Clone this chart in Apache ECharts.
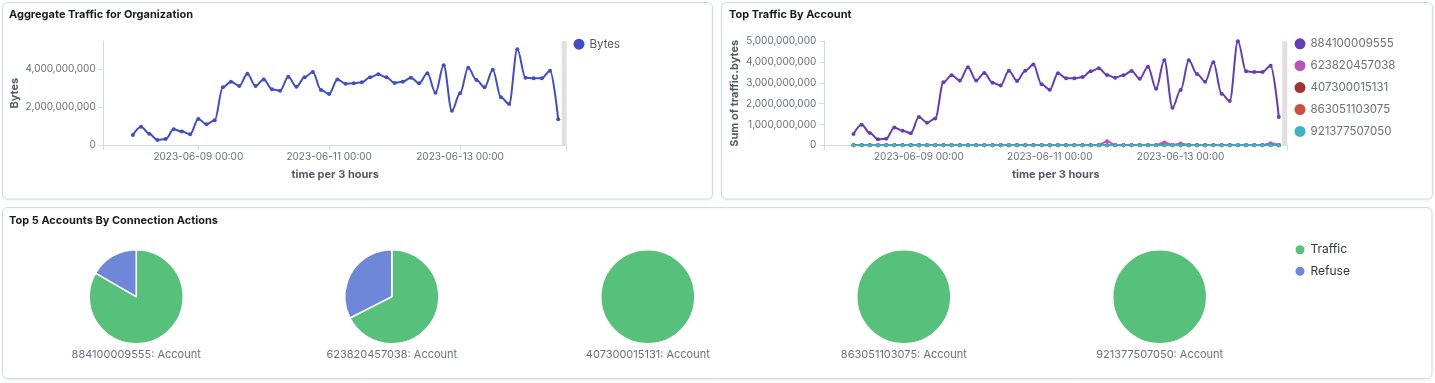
<!DOCTYPE html>
<html><head><meta charset="utf-8">
<script src="https://cdn.jsdelivr.net/npm/echarts@6/dist/echarts.min.js"></script>
<style>html,body{margin:0;padding:0;background:#ffffff;}#c{width:1435px;height:383px;}</style>
</head><body><div id="c"></div>
<script>
const timeBuckets = [
 '2023-06-08 00:00','2023-06-08 03:00','2023-06-08 06:00','2023-06-08 09:00','2023-06-08 12:00','2023-06-08 15:00','2023-06-08 18:00','2023-06-08 21:00',
 '2023-06-09 00:00','2023-06-09 03:00','2023-06-09 06:00','2023-06-09 09:00','2023-06-09 12:00','2023-06-09 15:00','2023-06-09 18:00','2023-06-09 21:00',
 '2023-06-10 00:00','2023-06-10 03:00','2023-06-10 06:00','2023-06-10 09:00','2023-06-10 12:00','2023-06-10 15:00','2023-06-10 18:00','2023-06-10 21:00',
 '2023-06-11 00:00','2023-06-11 03:00','2023-06-11 06:00','2023-06-11 09:00','2023-06-11 12:00','2023-06-11 15:00','2023-06-11 18:00','2023-06-11 21:00',
 '2023-06-12 00:00','2023-06-12 03:00','2023-06-12 06:00','2023-06-12 09:00','2023-06-12 12:00','2023-06-12 15:00','2023-06-12 18:00','2023-06-12 21:00',
 '2023-06-13 00:00','2023-06-13 03:00','2023-06-13 06:00','2023-06-13 09:00','2023-06-13 12:00','2023-06-13 15:00','2023-06-13 18:00','2023-06-13 21:00',
 '2023-06-14 00:00','2023-06-14 03:00','2023-06-14 06:00','2023-06-14 09:00','2023-06-14 12:00'
];
const bytesTotal = [
 0.54e9,0.98e9,0.61e9,0.28e9,0.33e9,0.84e9,0.72e9,0.58e9,
 1.38e9,1.11e9,1.32e9,3.05e9,3.35e9,3.12e9,3.77e9,3.12e9,
 3.47e9,2.95e9,2.87e9,3.61e9,3.08e9,3.58e9,3.86e9,2.91e9,
 2.70e9,3.47e9,3.24e9,3.26e9,3.32e9,3.58e9,3.74e9,3.58e9,
 3.28e9,3.35e9,3.56e9,3.26e9,3.79e9,2.77e9,4.21e9,1.82e9,
 2.74e9,4.08e9,3.44e9,3.05e9,3.98e9,2.53e9,2.17e9,5.05e9,
 3.56e9,3.53e9,3.53e9,3.93e9,1.37e9
];
const acct88 = [
 0.54e9,0.99e9,0.59e9,0.29e9,0.32e9,0.86e9,0.70e9,0.58e9,
 1.36e9,1.09e9,1.29e9,3.03e9,3.37e9,3.11e9,3.75e9,3.11e9,
 3.48e9,3.01e9,2.88e9,3.59e9,3.09e9,3.59e9,3.88e9,2.93e9,
 2.67e9,3.46e9,3.22e9,3.22e9,3.28e9,3.56e9,3.70e9,3.38e9,
 3.25e9,3.37e9,3.57e9,3.20e9,3.78e9,2.72e9,4.09e9,1.81e9,
 2.66e9,4.09e9,3.43e9,3.06e9,3.99e9,2.48e9,2.13e9,5.00e9,
 3.56e9,3.52e9,3.52e9,3.83e9,1.36e9
];
const acct62 = [
 0.010e9,0.012e9,0.010e9,0.008e9,0.009e9,0.011e9,0.010e9,0.012e9,
 0.014e9,0.012e9,0.015e9,0.018e9,0.016e9,0.014e9,0.017e9,0.015e9,
 0.016e9,0.014e9,0.013e9,0.017e9,0.015e9,0.016e9,0.018e9,0.014e9,
 0.013e9,0.016e9,0.015e9,0.016e9,0.015e9,0.017e9,0.020e9,0.200e9,
 0.016e9,0.015e9,0.017e9,0.014e9,0.018e9,0.015e9,0.140e9,0.012e9,
 0.090e9,0.016e9,0.015e9,0.014e9,0.017e9,0.013e9,0.012e9,0.020e9,
 0.016e9,0.015e9,0.016e9,0.100e9,0.010e9
];
const acct40 = [
 0.004e9,0.005e9,0.004e9,0.003e9,0.003e9,0.004e9,0.004e9,0.004e9,
 0.005e9,0.004e9,0.005e9,0.006e9,0.006e9,0.005e9,0.006e9,0.005e9,
 0.006e9,0.005e9,0.005e9,0.006e9,0.005e9,0.006e9,0.006e9,0.005e9,
 0.005e9,0.006e9,0.005e9,0.005e9,0.006e9,0.006e9,0.006e9,0.006e9,
 0.005e9,0.006e9,0.006e9,0.005e9,0.006e9,0.005e9,0.007e9,0.004e9,
 0.005e9,0.007e9,0.006e9,0.005e9,0.006e9,0.005e9,0.004e9,0.008e9,
 0.006e9,0.006e9,0.006e9,0.006e9,0.004e9
];
const acct86 = [
 0.003e9,0.003e9,0.003e9,0.002e9,0.002e9,0.003e9,0.003e9,0.003e9,
 0.004e9,0.003e9,0.004e9,0.005e9,0.005e9,0.004e9,0.005e9,0.004e9,
 0.005e9,0.004e9,0.004e9,0.005e9,0.004e9,0.005e9,0.005e9,0.004e9,
 0.004e9,0.005e9,0.004e9,0.004e9,0.005e9,0.005e9,0.005e9,0.005e9,
 0.004e9,0.005e9,0.005e9,0.004e9,0.005e9,0.004e9,0.006e9,0.003e9,
 0.004e9,0.006e9,0.005e9,0.004e9,0.005e9,0.004e9,0.003e9,0.006e9,
 0.005e9,0.005e9,0.005e9,0.005e9,0.003e9
];
const acct92 = [
 0.005e9,0.006e9,0.005e9,0.004e9,0.004e9,0.005e9,0.005e9,0.005e9,
 0.006e9,0.005e9,0.006e9,0.007e9,0.007e9,0.006e9,0.007e9,0.006e9,
 0.007e9,0.006e9,0.006e9,0.007e9,0.006e9,0.007e9,0.007e9,0.006e9,
 0.006e9,0.007e9,0.006e9,0.006e9,0.007e9,0.007e9,0.007e9,0.007e9,
 0.006e9,0.007e9,0.007e9,0.006e9,0.007e9,0.006e9,0.008e9,0.005e9,
 0.006e9,0.008e9,0.007e9,0.006e9,0.007e9,0.006e9,0.005e9,0.009e9,
 0.007e9,0.007e9,0.007e9,0.007e9,0.005e9
];
const accountNames = ['884100009555','623820457038','407300015131','863051103075','921377507050'];
const accountColors = ['#663db8','#bc52bc','#9e3533','#c9503c','#3db3c3'];
const accountSeries = [acct88, acct62, acct40, acct86, acct92];
const trafficShare = [83.4, 67.5, 100, 100, 100];
const refuseShare = [16.6, 32.5, 0, 0, 0];
const dateTicks = ['2023-06-09 00:00','2023-06-11 00:00','2023-06-13 00:00'];
const axisRange = ['2023-06-07 13:18','2023-06-14 15:07'];
const partialBucketFrom = '2023-06-14 13:15';
const yTicksLeft = [0, 2e9, 4e9];
const yMaxLeft = 5.49e9;
const yTicksRight = [0, 1e9, 2e9, 3e9, 4e9, 5e9];
const yMaxRight = 5e9;

function t(s){const [d,h]=s.split(' ');const [Y,M,D]=d.split('-').map(Number);const [hh,mm]=h.split(':').map(Number);return Date.UTC(Y,M-1,D,hh,mm);}
function pad(n){return (n<10?'0':'')+n;}
function fmtTime(v){const d=new Date(v);return d.getUTCFullYear()+'-'+pad(d.getUTCMonth()+1)+'-'+pad(d.getUTCDate())+' '+pad(d.getUTCHours())+':'+pad(d.getUTCMinutes());}
function fmtNum(v){return String(Math.round(v)).replace(/\B(?=(\d{3})+(?!\d))/g, ',');}

const FONT = 'Inter';
const axisColor = '#d3dae6';
const labelColor = '#69707d';
const nameColor = '#535966';
const xMin = t(axisRange[0]), xMax = t(axisRange[1]);

function xAxisCfg(gi){
  return {type:'value', gridIndex:gi, min:xMin, max:xMax, scale:true,
    axisLine:{show:true, onZero:false, lineStyle:{color:axisColor}},
    axisTick:{show:true, length:5, lineStyle:{color:axisColor}, customValues:[xMin].concat(dateTicks.map(t)).concat([xMax])},
    axisLabel:{customValues:dateTicks.map(t), formatter:fmtTime, color:labelColor, fontSize:10, fontFamily:FONT, margin:7},
    splitLine:{show:false},
    name:'time per 3 hours', nameLocation:'middle', nameGap:23.5,
    nameTextStyle:{fontWeight:'bold', color:nameColor, fontSize:11, fontFamily:FONT}};
}
function yAxisCfg(gi, max, ticks, name, gap){
  return {type:'value', gridIndex:gi, min:0, max:max,
    axisLine:{show:true, lineStyle:{color:axisColor}},
    axisTick:{show:true, length:5, lineStyle:{color:axisColor}, customValues:ticks},
    axisLabel:{customValues:ticks, formatter:fmtNum, color:labelColor, fontSize:10, fontFamily:FONT, margin:8},
    splitLine:{show:false},
    name:name, nameLocation:'middle', nameGap:gap,
    nameTextStyle:{fontWeight:'bold', color:nameColor, fontSize:11, fontFamily:FONT}};
}
const partialArea = {silent:true, itemStyle:{color:'#e0e0e0'}, data:[[{xAxis:t(partialBucketFrom)},{xAxis:xMax}]]};

const series = [];
series.push({type:'line', name:'Bytes', xAxisIndex:0, yAxisIndex:0,
  data:timeBuckets.map((s,i)=>[t(s), bytesTotal[i]]),
  smooth:0.35, smoothMonotone:'x', symbol:'circle', symbolSize:4, showSymbol:true,
  lineStyle:{width:2, color:'#3f4fc3'}, itemStyle:{color:'#3f4fc3'},
  markArea:partialArea, emphasis:{disabled:true}});
accountNames.forEach((nm, k)=>{
  const s = {type:'line', name:nm, xAxisIndex:1, yAxisIndex:1,
    data:timeBuckets.map((ts,i)=>[t(ts), accountSeries[k][i]]),
    smooth:0.35, smoothMonotone:'x', symbol:'circle', symbolSize:4, showSymbol:true,
    lineStyle:{width:2, color:accountColors[k]}, itemStyle:{color:accountColors[k]},
    emphasis:{disabled:true}};
  if (k===0) s.markArea = partialArea;
  series.push(s);
});
const pieCenters = [136.2, 391.8, 647.8, 903.8, 1159.7];
const titles = [
  {text:'Aggregate Traffic for Organization', left:9, top:9.5},
  {text:'Top Traffic By Account', left:729, top:9.5},
  {text:'Top 5 Accounts By Connection Actions', left:9, top:215}
].map(o=>Object.assign(o,{padding:0, textStyle:{fontSize:11, fontWeight:'bold', color:'#1a1c21', fontFamily:FONT}}));
accountNames.forEach((nm, k)=>{
  const data = [];
  if (trafficShare[k] > 0) data.push({name:'Traffic', value:trafficShare[k], itemStyle:{color:'#57c17b'}});
  if (refuseShare[k] > 0) data.push({name:'Refuse', value:refuseShare[k], itemStyle:{color:'#6f87d8'}});
  series.push({type:'pie', center:[pieCenters[k], 296.7], radius:47, startAngle:90, clockwise:true,
    label:{show:false}, labelLine:{show:false}, itemStyle:{borderColor:'#ffffff', borderWidth:1.5},
    emphasis:{disabled:true}, data:data});
  titles.push({text:nm+': Account', left:pieCenters[k], top:349, textAlign:'center', padding:0,
    textStyle:{fontSize:11, fontWeight:'normal', color:labelColor, fontFamily:FONT}});
});

const panelStyle = {fill:'#ffffff', stroke:'#d3dae6', lineWidth:1, shadowColor:'rgba(0,0,0,0.07)', shadowBlur:3, shadowOffsetY:1};
const option = {
  animation:false,
  textStyle:{fontFamily:FONT},
  graphic:[
    {type:'rect', z:-10, shape:{x:2.5, y:2.5, width:710, height:196.5, r:5}, style:panelStyle},
    {type:'rect', z:-10, shape:{x:721.5, y:2.5, width:711, height:196.5, r:5}, style:panelStyle},
    {type:'rect', z:-10, shape:{x:2.5, y:207.5, width:1429.5, height:171, r:5}, style:panelStyle}
  ],
  title:titles,
  legend:[
    {data:['Bytes'], left:573.5, top:38.2, padding:0, icon:'circle', itemWidth:11, itemHeight:11, itemGap:10,
      textStyle:{color:'#535966', fontSize:11.5, fontFamily:FONT}, selectedMode:false},
    {data:accountNames, orient:'vertical', left:1294.5, top:37.8, padding:0, icon:'circle', itemWidth:11, itemHeight:11, itemGap:9.9,
      textStyle:{color:'#69707d', fontSize:11.5, fontFamily:FONT}, selectedMode:false},
    {data:['Traffic','Refuse'], orient:'vertical', left:1293.5, top:243.2, padding:0, icon:'circle', itemWidth:11, itemHeight:11, itemGap:8.6,
      textStyle:{color:'#343741', fontSize:12, fontFamily:FONT}, selectedMode:false}
  ],
  grid:[
    {left:103.7, top:41, width:463, height:104.3},
    {left:824.3, top:41.3, width:463, height:104}
  ],
  xAxis:[xAxisCfg(0), xAxisCfg(1)],
  yAxis:[yAxisCfg(0, yMaxLeft, yTicksLeft, 'Bytes', 84), yAxisCfg(1, yMaxRight, yTicksRight, 'Sum of traffic.bytes', 84)],
  series:series
};
const chart = echarts.init(document.getElementById('c'), null, {renderer:'canvas'});
chart.setOption(option);
</script></body></html>
